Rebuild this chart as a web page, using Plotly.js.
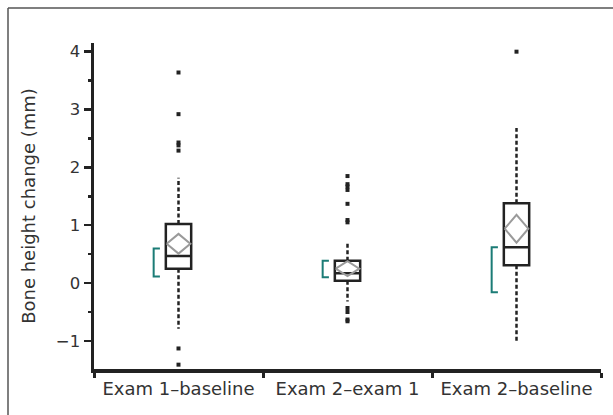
<!DOCTYPE html>
<html>
<head>
<meta charset="utf-8">
<script src="https://cdn.plot.ly/plotly-3.0.1.min.js"></script>
<style>html,body{margin:0;padding:0;background:#fff;}</style>
</head>
<body>
<div id="chart" style="width:613px;height:415px;"></div>
<script>
// ---- data ----
const categories = ["Exam 1\u2013baseline", "Exam 2\u2013exam 1", "Exam 2\u2013baseline"];
const q1Values     = [0.25, 0.04, 0.31];
const medianValues = [0.47, 0.17, 0.62];
const q3Values     = [1.02, 0.385, 1.38];
const upperWhisker = [1.82, 0.72, 2.68];
const lowerWhisker = [-0.79, -0.32, -1.04];
const meanValues   = [0.68, 0.25, 0.94];
const meanCIHalf   = [0.17, 0.13, 0.24];
const bracketHigh  = [0.60, 0.385, 0.62];
const bracketLow   = [0.115, 0.10, -0.16];
const outlierGroup = [0, 0, 0, 0, 0, 0, 0,
                      1, 1, 1, 1, 1, 1, 1, 1, 1, 1, 1,
                      2];
const outlierValues = [3.64, 2.92, 2.43, 2.38, 2.29, -1.13, -1.41,
                       1.85, 1.71, 1.67, 1.61, 1.37, 1.09, 1.05, -0.43, -0.50, -0.63, -0.66,
                       4.00];
const yTickValues = [-1, 0, 1, 2, 3, 4];

// ---- styling constants ----
const ink = "#222222";
const textColor = "#333333";
const teal = "#1b7c76";
const diamondColor = "#9a9a9a";
const boxWidth = 0.15;
const diamondHalfWidth = 0.07;
const bracketOuter = -0.147;
const bracketInner = -0.11;
const fontFam = "DejaVu Sans, Arial, sans-serif";

const traces = [];

// boxes (whiskers collapsed, drawn separately as dashed lines)
traces.push({
  type: "box",
  x: categories,
  q1: q1Values,
  median: medianValues,
  q3: q3Values,
  lowerfence: q1Values,
  upperfence: q3Values,
  width: boxWidth,
  whiskerwidth: 0,
  fillcolor: "#ffffff",
  line: { color: ink, width: 2.5 },
  boxpoints: false,
  hoverinfo: "skip",
  showlegend: false,
  xaxis: "x", yaxis: "y"
});

categories.forEach((c, i) => {
  // dashed whiskers
  traces.push({
    type: "scatter", mode: "lines",
    x: [i, i], y: [q3Values[i], upperWhisker[i]],
    line: { color: ink, width: 2.5, dash: "4px,2.5px" },
    xaxis: "x2", yaxis: "y", showlegend: false, hoverinfo: "skip"
  });
  traces.push({
    type: "scatter", mode: "lines",
    x: [i, i], y: [q1Values[i], lowerWhisker[i]],
    line: { color: ink, width: 2.5, dash: "4px,2.5px" },
    xaxis: "x2", yaxis: "y", showlegend: false, hoverinfo: "skip"
  });
  // mean diamond
  traces.push({
    type: "scatter", mode: "lines",
    x: [i - diamondHalfWidth, i, i + diamondHalfWidth, i, i - diamondHalfWidth],
    y: [meanValues[i], meanValues[i] + meanCIHalf[i], meanValues[i], meanValues[i] - meanCIHalf[i], meanValues[i]],
    line: { color: diamondColor, width: 2 },
    xaxis: "x2", yaxis: "y", showlegend: false, hoverinfo: "skip"
  });
  // teal bracket
  traces.push({
    type: "scatter", mode: "lines",
    x: [i + bracketInner, i + bracketOuter, i + bracketOuter, i + bracketInner],
    y: [bracketHigh[i], bracketHigh[i], bracketLow[i], bracketLow[i]],
    line: { color: teal, width: 2 },
    xaxis: "x2", yaxis: "y", showlegend: false, hoverinfo: "skip"
  });
});

// outliers
traces.push({
  type: "scatter", mode: "markers",
  x: outlierGroup, y: outlierValues,
  marker: { symbol: "square", size: 4, color: ink },
  xaxis: "x2", yaxis: "y", showlegend: false, hoverinfo: "skip"
});

const plotLeft = 94, plotRight = 601, plotTop = 43, plotBottom = 369;
const pw = plotRight - plotLeft, ph = plotBottom - plotTop;
const frameX = (8 - plotLeft) / pw;
const frameY = (plotBottom - 8) / ph;

const layout = {
  width: 613, height: 415,
  margin: { l: plotLeft, r: 613 - plotRight, t: plotTop, b: 415 - plotBottom, pad: 0 },
  paper_bgcolor: "#ffffff", plot_bgcolor: "#ffffff",
  showlegend: false,
  font: { family: fontFam, color: textColor },
  xaxis: {
    type: "category",
    categoryorder: "array", categoryarray: categories,
    range: [-0.5, 2.5],
    tickson: "boundaries",
    ticks: "outside", ticklen: 5, tickwidth: 3, tickcolor: ink,
    showline: true, linewidth: 4, linecolor: ink,
    showgrid: false, zeroline: false,
    tickfont: { family: fontFam, size: 18, color: textColor },
    fixedrange: true
  },
  xaxis2: {
    overlaying: "x", range: [-0.5, 2.5], visible: false, fixedrange: true
  },
  yaxis: {
    range: [-1.485, 4.15],
    tickmode: "array", tickvals: yTickValues,
    ticks: "outside", ticklen: 7, tickwidth: 2.5, tickcolor: ink,
    minor: { dtick: 0.5, tick0: 0, ticks: "outside", ticklen: 3, tickwidth: 2.5, tickcolor: ink, showgrid: false },
    showline: true, linewidth: 3.5, linecolor: ink,
    showgrid: false, zeroline: false,
    tickfont: { family: fontFam, size: 16.5, color: textColor },
    title: { text: "Bone height change (mm)", font: { family: fontFam, size: 18, color: textColor }, standoff: 16 },
    fixedrange: true
  },
  shapes: [
    { type: "line", xref: "paper", yref: "paper", x0: frameX, x1: frameX, y0: -0.2, y1: frameY,
      line: { color: "#555555", width: 1.5 } },
    { type: "line", xref: "paper", yref: "paper", x0: frameX, x1: 1.1, y0: frameY, y1: frameY,
      line: { color: "#555555", width: 1.5 } }
  ]
};

Plotly.newPlot("chart", traces, layout, { staticPlot: true, displayModeBar: false });
</script>
</body>
</html>
